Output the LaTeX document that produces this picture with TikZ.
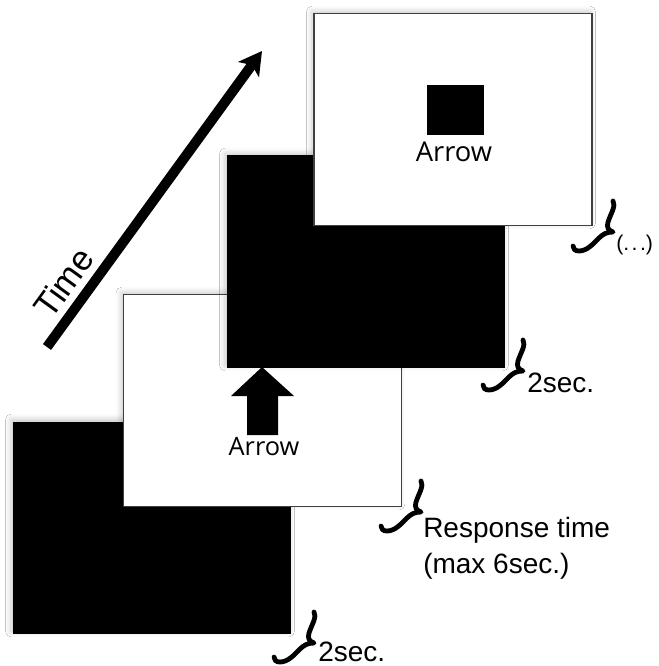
\documentclass[tikz,border=0pt]{standalone}
\usepackage{fontspec}
\setmainfont{Liberation Sans}
\newfontfamily\labelfont{Open Sans}
\usetikzlibrary{arrows.meta,shadows.blur}

\tikzset{
  screen/.style={minimum width=208.5pt, minimum height=159pt, inner sep=0pt, outer sep=0pt,
    blur shadow={shadow xshift=-1.5pt, shadow yshift=1.5pt, shadow blur radius=4pt, shadow opacity=22}},
  blankscreen/.style={screen, fill=black},
  cuescreen/.style={screen, fill=white, draw=black!75, line width=0.8pt},
  cuetext/.style={font=\labelfont\fontsize{19pt}{23pt}\selectfont, inner sep=0pt, anchor=base},
  note/.style={font=\fontsize{21pt}{27pt}\selectfont, inner sep=0pt, anchor=base west, align=left},
  smallnote/.style={font=\fontsize{16pt}{19pt}\selectfont, inner sep=0pt, anchor=base west},
  tbrace/.pic={
    \draw[line width=3.6pt, line cap=round, line join=round]
      (0,0) .. controls (3,5) and (-2,12) .. (-5,21)
            .. controls (-6.5,26) and (-5,29.5) .. (0,31)
            .. controls (-6,31) and (-10,33) .. (-14,37)
            .. controls (-20,43) and (-26,50) .. (-34,50)
            .. controls (-38,50) and (-40,48) .. (-40,45);
  }
}

\begin{document}
\begin{tikzpicture}[x=0.75pt, y=-0.75pt]
  \useasboundingbox (0,0) rectangle (658,666);
  \fill[white] (0,0) rectangle (658,666);

  % time axis
  \coordinate (tstart) at (47,347);
  \coordinate (tend) at (262,51);
  \draw[line width=7.5pt, -{Stealth[length=17pt, width=19pt, inset=4pt]}] (tstart) -- (tend);
  \node[font=\fontsize{26pt}{30pt}\selectfont, inner sep=0pt, anchor=base, rotate=54] (timelbl) at (74,290) {Time};

  % trial screens, oldest at the bottom left
  \node[blankscreen] (s1) at (152,527.5) {};
  \node[cuescreen] (s2) at (262.5,400.5) {};
  \node[blankscreen] (s3) at (366,261.5) {};
  \node[cuescreen] (s4) at (453,119.5) {};

  % cue on the second screen: an upward arrow
  \fill (262,367) -- (294,396) -- (278,396) -- (278,435) -- (247,435) -- (247,396) -- (231,396) -- cycle;
  \node[cuetext] (cue2) at (264,455) {Arrow};

  % cue on the last screen: a square
  \node[fill=black, minimum width=42.75pt, minimum height=37.5pt, inner sep=0pt] (sq) at (455.5,110) {};
  \node[cuetext, font=\labelfont\fontsize{20.5pt}{24pt}\selectfont] (cue4) at (454,162) {Arrow};

  % durations
  \pic at (314,612) {tbrace};
  \node[note] (d1) at (318,661) {2sec.};
  \pic at (421,481) {tbrace};
  \node[note] (d2) at (423,573) {Response time\\(max 6sec.)};
  \pic at (523,340) {tbrace};
  \node[note] (d3) at (527,392) {2sec.};
  \pic at (613,201) {tbrace};
  \node[smallnote] (d4) at (616,251) {(.\kern1.8pt.\kern1.8pt.)};
\end{tikzpicture}
\end{document}
